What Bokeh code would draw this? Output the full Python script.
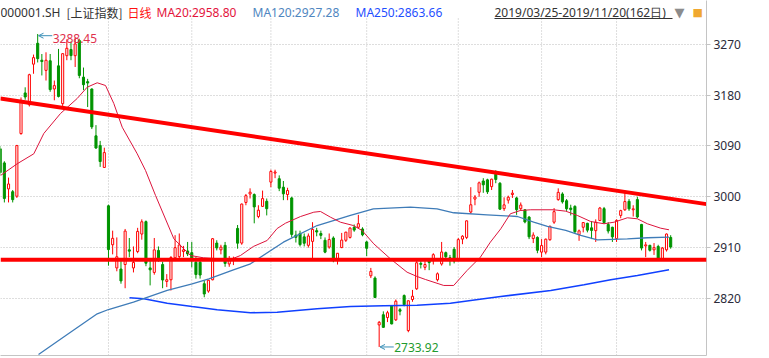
from bokeh.plotting import figure
from bokeh.models import Range1d, FixedTicker, Label, Arrow, OpenHead, Span, ColumnDataSource, BoxAnnotation
from bokeh.embed import file_html
from bokeh.resources import INLINE

# ---------------- data (SSE Composite 000001.SH, daily, 2019/03/25 - 2019/11/20) ----------------
opens = [3085, 3060, 3014, 3009, 3001, 3112, 3184, 3163, 3235, 3272,
         3242, 3224, 3241, 3191, 3232, 3165, 3250, 3261, 3250, 3277,
         3212, 3204, 3191, 3108, 3091, 3052, 2984, 2915, 2874, 2872,
         2880, 2906, 2874, 2903, 2934, 2956, 2874, 2866, 2905, 2880,
         2850, 2853, 2892, 2894, 2903, 2904, 2901, 2884, 2884, 2846,
         2833, 2853, 2918, 2906, 2914, 2881, 2888, 2944, 2918, 2990,
         3005, 3004, 2965, 2983, 2992, 3026, 3042, 3032, 3017, 3004,
         2998, 2932, 2935, 2929, 2914, 2921, 2940, 2935, 2923, 2911,
         2927, 2890, 2910, 2923, 2928, 2946, 2946, 2943, 2920, 2860,
         2856, 2773, 2791, 2786, 2807, 2782, 2800, 2825, 2763, 2818,
         2837, 2882, 2875, 2887, 2887, 2853, 2881, 2901, 2892, 2907,
         2887, 2925, 2928, 2973, 2996, 3008, 3028, 3030, 3018, 3040,
         3024, 2979, 2994, 3004, 2998, 2979, 2977, 2964, 2926, 2928,
         2902, 2902, 2924, 2955, 2995, 3005, 2993, 2980, 2983, 2933,
         2946, 2953, 2945, 2940, 2958, 2979, 2951, 2946, 2926, 2967,
         2977, 2992, 2977, 2995, 2951, 2913, 2914, 2906, 2912, 2890,
         2906, 2928]
highs = [3090, 3063, 3034, 3012, 3092, 3176, 3194, 3218, 3252, 3288.45,
         3253, 3256, 3253, 3206, 3262, 3254, 3279, 3275, 3282, 3280,
         3229, 3209, 3192, 3127, 3099, 3087, 2986, 2940, 2928, 2887,
         2943, 2927, 2912, 2945, 2960, 2958, 2887, 2927, 2912, 2885,
         2863, 2895, 2932, 2935, 2913, 2920, 2920, 2893, 2888, 2852,
         2853, 2927, 2923, 2915, 2920, 2895, 2894, 2950, 2988, 3005,
         3015, 3006, 2985, 3011, 2997, 3048, 3048, 3038, 3028, 3016,
         3000, 2940, 2940, 2935, 2935, 2955, 2945, 2940, 2928, 2935,
         2930, 2900, 2936, 2938, 2946, 2951, 2968, 2946, 2922, 2874,
         2859, 2780, 2797, 2798, 2808, 2818, 2803, 2827, 2816, 2835,
         2886, 2891, 2886, 2890, 2900, 2866, 2920, 2903, 2897, 2911,
         2927, 2932, 2958, 3017, 3003, 3027, 3033, 3032, 3032, 3047,
         3026, 2999, 3002, 3012, 3000, 2990, 2978, 2966, 2937, 2930,
         2925, 2926, 2949, 2980, 3015, 3008, 2996, 2986, 2985, 2942,
         2955, 2954, 2957, 2960, 2982, 2982, 2955, 2947, 2960, 2977,
         3011, 2996, 2985, 3000, 2952, 2920, 2915, 2918, 2915, 2911,
         2935, 2932]
lows = [3038, 2990, 2990, 2990, 2998, 3110, 3172, 3160, 3218, 3238,
        3215, 3206, 3186, 3171, 3176, 3160, 3242, 3242, 3230, 3210,
        3189, 3159, 3120, 3085, 3053, 3052, 2878, 2898, 2868, 2846,
        2838, 2893, 2866, 2900, 2924, 2877, 2843, 2862, 2885, 2838,
        2840, 2834, 2886, 2890, 2893, 2895, 2875, 2855, 2855, 2822,
        2830, 2852, 2905, 2898, 2876, 2876, 2879, 2908, 2915, 2985,
        2997, 2953, 2962, 2982, 2967, 3017, 3033, 3010, 2994, 2994,
        2928, 2919, 2912, 2912, 2910, 2890, 2930, 2925, 2900, 2908,
        2884, 2880, 2909, 2920, 2926, 2938, 2944, 2930, 2895, 2856,
        2821, 2733.92, 2768, 2778, 2774, 2780, 2790, 2806, 2760, 2814,
        2835, 2873, 2870, 2870, 2880, 2850, 2878, 2888, 2878, 2882,
        2886, 2916, 2925, 2970, 2985, 3000, 3007, 3005, 3012, 3024,
        2977, 2975, 2988, 2998, 2968, 2975, 2953, 2925, 2918, 2900,
        2893, 2898, 2922, 2952, 2993, 2988, 2975, 2967, 2935, 2922,
        2937, 2937, 2925, 2920, 2957, 2952, 2935, 2920, 2920, 2962,
        2975, 2975, 2965, 2962, 2905, 2893, 2903, 2897, 2889, 2889,
        2903, 2908]
closes = [3043.03, 2997.10, 3022.72, 2994.94, 3090.76, 3170.36, 3176.82, 3216.30, 3246.57, 3244.81,
          3239.66, 3241.93, 3189.96, 3197.00, 3177.79, 3253.60, 3263.12, 3250.20, 3270.80, 3215.04,
          3198.59, 3201.61, 3123.83, 3086.40, 3062.50, 3078.34, 2906.46, 2926.39, 2893.76, 2850.95,
          2939.21, 2903.71, 2883.61, 2938.68, 2955.71, 2882.30, 2870.60, 2905.97, 2891.70, 2852.52,
          2852.99, 2892.38, 2909.91, 2914.70, 2905.81, 2898.70, 2890.08, 2862.28, 2861.42, 2827.80,
          2852.13, 2925.72, 2909.38, 2910.74, 2881.97, 2887.62, 2890.16, 2917.80, 2987.12, 3001.98,
          3008.15, 2982.07, 2976.28, 2996.79, 2978.88, 3044.90, 3043.94, 3015.26, 3005.25, 3011.06,
          2933.36, 2928.23, 2915.30, 2917.76, 2930.55, 2942.19, 2937.62, 2931.69, 2901.95, 2924.20,
          2886.97, 2899.94, 2923.28, 2937.36, 2944.54, 2941.01, 2952.34, 2932.51, 2908.77, 2867.84,
          2821.50, 2777.56, 2768.68, 2794.55, 2774.75, 2814.99, 2797.26, 2808.91, 2815.80, 2823.82,
          2883.10, 2880.33, 2880.00, 2883.44, 2897.43, 2863.57, 2902.19, 2893.76, 2890.92, 2886.24,
          2924.11, 2930.15, 2957.41, 2985.86, 2999.60, 3024.74, 3021.20, 3008.81, 3031.24, 3030.75,
          2978.12, 2985.66, 2999.28, 3006.45, 2977.08, 2985.34, 2955.43, 2929.09, 2932.17, 2905.19,
          2913.57, 2924.86, 2947.71, 2973.66, 3007.88, 2991.05, 2978.71, 2977.33, 2938.14, 2939.62,
          2954.38, 2940.92, 2940.46, 2954.93, 2980.05, 2954.18, 2939.32, 2929.06, 2958.20, 2975.49,
          2991.56, 2978.60, 2978.71, 2964.18, 2909.20, 2914.82, 2905.24, 2909.87, 2891.34, 2909.20,
          2933.99, 2911.05]

# moving averages (candle index, value)
ma20_idx = [0.07, 4.08, 8.07, 10.47, 14.48, 18.49, 20.89, 23.29, 25.29, 27.28, 29.3, 32.9, 34.9,
            37.3, 41.7, 45.7, 48.8, 55.3, 57.7, 60.8, 64.1, 66.5, 68.5, 72.1, 75.3, 76.9, 79.3,
            81.7, 84.8, 86.9, 89.7, 93.7, 97.7, 100.1, 102.1, 106.5, 108.9, 112.1, 115.3, 117.7,
            120.2, 122.5, 124.9, 127.4, 132.9, 135.8, 138.6, 141.8, 145.0, 147.4, 150.6, 153.0,
            155.4, 158.6, 160.6]
ma20_val = [3037.7, 3058.5, 3076.2, 3112.2, 3147.6, 3174.2, 3194.2, 3202.0, 3197.2, 3165.3, 3123.3,
            3076.2, 3046.6, 3002.3, 2925.6, 2896.0, 2891.9, 2888.9, 2896.0, 2912.0, 2922.6, 2943.8,
            2953.2, 2965.0, 2972.7, 2974.0, 2963.9, 2955.0, 2949.1, 2940.3, 2916.7, 2890.1, 2866.4,
            2858.8, 2853.5, 2842.9, 2842.9, 2869.4, 2893.0, 2919.6, 2943.3, 2969.9, 2975.7, 2977.0,
            2977.0, 2974.5, 2966.9, 2956.2, 2952.2, 2955.0, 2962.8, 2961.0, 2952.2, 2944.4, 2941.5]
ma120_idx = [9.2, 16.1, 23.3, 26.0, 32.0, 40.1, 46.1, 50.1, 56.0, 60.1, 68.0, 76.1, 84.1, 89.6,
             98.5, 104.9, 108.9, 116.9, 124.2, 128.1, 131.4, 135.8, 139.4, 143.4, 150.6, 155.4, 160.6]
ma120_val = [2720.6, 2756.0, 2792.7, 2800.3, 2813.2, 2834.0, 2845.9, 2854.7, 2870.7, 2881.3, 2919.6,
             2949.1, 2966.9, 2978.7, 2981.6, 2978.7, 2971.7, 2968.1, 2965.1, 2955.0, 2947.4, 2940.3,
             2931.5, 2923.8, 2925.6, 2927.4, 2928.4]
ma250_idx = [31.05, 34.5, 40.1, 46.1, 52.1, 60.1, 66.5, 76.1, 84.1, 92.1, 100.1, 108.1, 116.1,
             120.2, 132.2, 140.2, 146.6, 153.0, 160.6]
ma250_val = [2821.0, 2819.3, 2811.5, 2805.6, 2799.8, 2794.5, 2795.5, 2801.6, 2805.6, 2806.9, 2807.9,
             2811.5, 2819.3, 2823.3, 2834.0, 2844.1, 2852.9, 2860.6, 2870.7]

trend_idx = [0, 169.6]
trend_val = [3174, 2987]
support_val = 2888.4

month_start_idx = [26, 46, 65, 88, 110, 130, 148]     # first trading day of May..Nov
y_ticks = [2820, 2910, 3000, 3090, 3180, 3270]

header_code = "000001.SH"
header_name = "[上证指数]"
header_period = "日线"
ma20_text = "MA20:2958.80"
ma120_text = "MA120:2927.28"
ma250_text = "MA250:2863.66"
range_text = "2019/03/25-2019/11/20(162日)"

# ---------------- figure ----------------
RED = "#ff0000"
GREEN = "#009400"
FONT = "Noto Sans"
Y_LO, Y_HI = 2718.8, 3347.8      # value range of the frame (canvas y 355 .. 0)
GRID_TOP = 3315.9                # grid lines stop below the header band

p = figure(width=769, height=358, output_backend="svg", toolbar_location=None,
           x_range=Range1d(0.072, 169.6), y_range=Range1d(Y_LO, Y_HI),
           y_axis_location="right", min_border_left=0, min_border_top=0,
           min_border_right=63, min_border_bottom=3)
p.outline_line_color = None
p.background_fill_color = "white"
p.border_fill_color = "white"

# axes
p.yaxis.ticker = FixedTicker(ticks=y_ticks)
p.yaxis.axis_line_color = "#c4c4c4"
p.yaxis.major_tick_line_color = "#c4c4c4"
p.yaxis.major_tick_out = 4
p.yaxis.major_tick_in = 0
p.yaxis.minor_tick_line_color = None
p.yaxis.major_label_text_font = FONT
p.yaxis.major_label_text_font_size = "12px"
p.yaxis.major_label_text_color = "#2b2b3a"
p.yaxis.major_label_standoff = 3

p.xaxis.ticker = FixedTicker(ticks=[])
p.xaxis.axis_line_color = "#c4c4c4"
p.xaxis.major_tick_line_color = None
p.xaxis.minor_tick_line_color = None
p.xaxis.major_tick_out = 0
p.xaxis.major_tick_in = 0
p.xaxis.major_label_standoff = 0

p.xgrid.visible = False
p.ygrid.grid_line_color = "#bdbdbd"
p.ygrid.grid_line_dash = "1 2"
p.ygrid.grid_line_width = 1

# vertical month grid (dotted)
p.segment(x0=month_start_idx, y0=[Y_LO] * len(month_start_idx),
          x1=month_start_idx, y1=[GRID_TOP] * len(month_start_idx),
          line_color="#bdbdbd", line_dash="1 2", line_width=1)

# candles
n = len(closes)
idx = list(range(n))
up = [c >= o for o, c in zip(opens, closes)]
src_up = ColumnDataSource(dict(
    x=[i for i in idx if up[i]],
    o=[opens[i] for i in idx if up[i]], c=[closes[i] for i in idx if up[i]],
    h=[highs[i] for i in idx if up[i]], l=[lows[i] for i in idx if up[i]]))
src_dn = ColumnDataSource(dict(
    x=[i for i in idx if not up[i]],
    o=[opens[i] for i in idx if not up[i]], c=[closes[i] for i in idx if not up[i]],
    h=[highs[i] for i in idx if not up[i]], l=[lows[i] for i in idx if not up[i]]))

p.segment(x0="x", y0="h", x1="x", y1="l", source=src_up, line_color=RED, line_width=1)
p.segment(x0="x", y0="h", x1="x", y1="l", source=src_dn, line_color=GREEN, line_width=1)
p.vbar(x="x", width=0.5, top="c", bottom="o", source=src_up,
       fill_color="white", line_color=RED, line_width=1)
p.vbar(x="x", width=0.5, top="o", bottom="c", source=src_dn,
       fill_color=GREEN, line_color=GREEN, line_width=1)

# moving averages
p.line(ma250_idx, ma250_val, line_color="#1040ff", line_width=1.6)
p.line(ma120_idx, ma120_val, line_color="#3f7cb8", line_width=1.3)
p.line(ma20_idx, ma20_val, line_color="#dc143c", line_width=1)

# trend lines
p.line(trend_idx, trend_val, line_color=RED, line_width=4)
p.add_layout(Span(location=support_val, dimension="width", line_color=RED, line_width=4))

# high / low markers
hi_i = max(idx, key=lambda i: highs[i])
lo_i = min(idx, key=lambda i: lows[i])
ARROW = "#3a8fb7"
p.add_layout(Arrow(x_start=hi_i + 3.5, y_start=highs[hi_i] - 3, x_end=hi_i + 0.2, y_end=highs[hi_i] - 3,
                   line_color=ARROW, line_width=1,
                   end=OpenHead(size=5, line_color=ARROW, line_width=1)))
p.add_layout(Label(x=hi_i + 3.6, y=highs[hi_i], x_offset=0, y_offset=-5, text=f"{highs[hi_i]:.2f}",
                   text_font=FONT, text_font_size="12px", text_color="#e0304c",
                   text_baseline="middle", text_align="left"))
p.add_layout(Arrow(x_start=lo_i + 3.5, y_start=lows[lo_i], x_end=lo_i + 0.2, y_end=lows[lo_i],
                   line_color=ARROW, line_width=1,
                   end=OpenHead(size=5, line_color=ARROW, line_width=1)))
p.add_layout(Label(x=lo_i + 3.6, y=lows[lo_i], y_offset=-1, text=f"{lows[lo_i]:.2f}",
                   text_font=FONT, text_font_size="12px", text_color="#1e9a2e",
                   text_baseline="middle", text_align="left"))

# header (screen units, relative to the frame's bottom-left; frame bottom is at canvas y=355)
HY = 343
def head(x, text, color, font=FONT, size="12px"):
    p.add_layout(Label(x=x, y=HY, x_units="screen", y_units="screen", text=text,
                       text_font=font, text_font_size=size, text_color=color,
                       text_baseline="middle", text_align="left"))

head(0, header_code, "#333333")
head(66, header_name, "#333333", font="Noto Sans CJK SC")
head(127, header_period, "#ff1010", font="Noto Sans CJK SC")
head(156, ma20_text, "#e3143c")
head(252, ma120_text, "#4f86c0")
head(355, ma250_text, "#1f4fff")
head(494, range_text, "#333333", size="12px")
head(674, "▼", "#8c8c8c", font="DejaVu Sans", size="13px")
head(692, "■", "#f0a830", font="DejaVu Sans", size="11px")
# underline of the date range
p.add_layout(BoxAnnotation(left=494, right=672, bottom=336.5, top=337.5,
                           left_units="screen", right_units="screen",
                           bottom_units="screen", top_units="screen",
                           fill_color="#333333", fill_alpha=1, line_color=None))

open("out.html", "w").write(file_html(p, INLINE))
